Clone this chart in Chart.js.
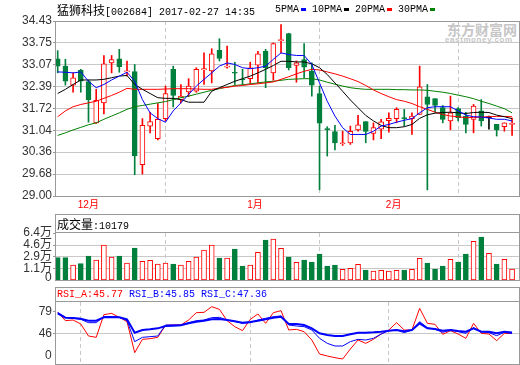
<!DOCTYPE html>
<html>
<head>
<meta charset="utf-8">
<script src="https://cdn.jsdelivr.net/npm/chart.js@4.4.1/dist/chart.umd.min.js"></script>
<style>
  html, body { margin: 0; padding: 0; background: #fff; width: 520px; height: 365px; overflow: hidden; }
  canvas { position: absolute; left: 0; }
  .box { position: absolute; border: 1px solid #999; box-sizing: border-box; pointer-events: none; }
  .sep { position: absolute; left: 55px; width: 465px; height: 1px; background: #999; }
  .txt { position: absolute; white-space: nowrap; font-family: "Liberation Mono", monospace; font-size: 10px; color: #000; }
  .cjk { font-family: "Noto Sans CJK SC"; font-size: 12px; }
  .sw { display: inline-block; width: 5px; height: 3px; margin-left: 2px; vertical-align: 1px; }
  .logo { position: absolute; color: #c6c6c6; font-weight: bold; white-space: nowrap; }
</style>
</head>
<body>
<div class="logo" style="left:447px;top:19px;font:bold 14px 'Noto Sans CJK SC'">东方财富网</div>
<div class="logo" style="left:445px;top:35px;font:bold 8px 'Liberation Sans';letter-spacing:0.6px">eastmoney.com</div>

<canvas id="priceChart" width="520" height="215" style="top:0"></canvas>
<canvas id="volChart" width="520" height="72" style="top:214px"></canvas>
<canvas id="rsiChart" width="520" height="78" style="top:287px"></canvas>

<div class="box" style="left:55px;top:21px;width:465px;height:176px"></div>
<div class="box" style="left:55px;top:214px;width:465px;height:67px"></div>
<div class="sep" style="top:232px"></div>
<div class="box" style="left:55px;top:287px;width:465px;height:78px"></div>
<div class="sep" style="top:301px"></div>

<div class="txt" style="left:57px;top:3px;line-height:14px"><span class="cjk">猛狮科技</span>[002684] 2017-02-27 14:35</div>
<div class="txt" style="left:275px;top:3px;line-height:14px">5PMA<i class="sw" style="background:#0000ff"></i> 10PMA<i class="sw" style="background:#000"></i> 20PMA<i class="sw" style="background:#ff0000"></i> 30PMA<i class="sw" style="background:#008000"></i></div>
<div class="txt" style="left:57px;top:215px;line-height:17px"><span class="cjk">成交量</span>:<span id="volLast"></span></div>
<div class="txt" style="left:57px;top:288px;line-height:13px"><span id="rsiA" style="color:#ff0000"></span> <span id="rsiB" style="color:#0000ff"></span> <span id="rsiC" style="color:#0000ff"></span></div>

<script>
// ========================
// DATA
// ========================
const monthPos = [3, 25, 43];
const monthLabels = ['12月', '1月', '2月'];
const priceTicks = [34.43, 33.75, 33.07, 32.39, 31.72, 31.04, 30.36, 29.68, 29.00];
const volTicks = [64000, 46000, 29000, 11000];
const volBottomTick = [0];
const rsiTicks = [79, 46];
const rsiBottomTick = [0];

const open = [33.26, 33.03, 32.44, 32.90, 32.55, 31.27, 31.89, 33.13, 33.26, 32.85,
  32.86, 29.97, 31.17, 30.78, 31.40, 32.93, 31.98, 32.23, 32.25, 32.91,
  32.88, 33.52, 33.00, 32.84, 32.62, 32.64, 33.06, 33.49, 32.82, 33.82,
  34.04, 33.05, 33.23, 32.87, 32.18, 31.08, 31.00, 30.62, 30.65, 31.05,
  31.31, 30.94, 31.07, 31.34, 31.40, 31.43, 31.40, 31.53, 32.08, 32.02,
  31.74, 31.33, 31.71, 31.48, 31.38, 31.64, 31.43, 31.22, 31.15, 31.22];
const high = [33.51, 33.24, 32.82, 32.93, 32.60, 32.31, 33.36, 33.36, 33.55, 33.19,
  33.08, 31.40, 31.60, 31.87, 32.41, 33.03, 32.46, 32.64, 32.98, 33.44,
  33.57, 33.88, 33.65, 33.15, 32.93, 33.15, 33.49, 33.55, 33.75, 34.32,
  34.05, 33.19, 33.73, 33.13, 32.41, 31.15, 31.19, 31.01, 31.17, 31.50,
  31.31, 31.27, 31.38, 31.58, 31.74, 31.69, 31.58, 33.03, 32.46, 32.02,
  31.81, 32.10, 31.74, 31.60, 31.84, 31.99, 31.48, 31.22, 31.27, 31.42];
const low = [32.82, 32.44, 32.22, 32.22, 31.29, 31.25, 31.55, 32.82, 32.84, 32.72,
  29.66, 29.68, 30.96, 30.74, 31.33, 31.76, 31.89, 32.08, 32.22, 32.46,
  32.51, 33.19, 32.97, 32.46, 32.46, 32.49, 32.51, 32.36, 32.59, 33.44,
  32.91, 32.53, 32.67, 32.10, 29.19, 30.24, 30.43, 30.57, 30.60, 31.01,
  30.65, 30.74, 30.78, 30.98, 31.27, 31.17, 30.91, 31.53, 29.19, 31.60,
  31.27, 31.06, 31.33, 30.96, 30.96, 31.17, 31.07, 30.86, 31.01, 30.88];
const close = [33.03, 32.56, 32.67, 32.56, 31.99, 31.97, 33.10, 33.23, 33.01, 32.88,
  30.24, 31.19, 31.31, 31.38, 32.18, 32.12, 32.10, 32.41, 32.93, 32.95,
  33.41, 33.27, 33.02, 32.81, 32.60, 32.98, 33.41, 32.98, 33.73, 33.84,
  32.98, 33.13, 33.00, 32.44, 31.26, 31.06, 30.65, 30.64, 31.01, 31.21,
  31.00, 31.12, 31.30, 31.41, 31.69, 31.40, 31.48, 32.39, 31.84, 31.81,
  31.38, 31.58, 31.43, 31.22, 31.79, 31.33, 31.43, 31.05, 31.27, 31.26];

const ma5 = [32.85, 32.84, 32.82, 32.85, 32.56, 32.36, 32.46, 32.60, 32.72, 32.84,
  32.56, 31.99, 31.58, 31.40, 31.29, 31.64, 31.89, 32.15, 32.41, 32.62,
  32.82, 33.03, 33.13, 33.08, 32.98, 32.95, 32.98, 33.03, 33.24, 33.44,
  33.39, 33.36, 33.36, 33.08, 32.51, 31.94, 31.48, 31.12, 30.91, 30.91,
  30.91, 31.01, 31.17, 31.22, 31.29, 31.35, 31.40, 31.58, 31.74, 31.77,
  31.77, 31.77, 31.64, 31.51, 31.46, 31.45, 31.42, 31.38, 31.38, 31.33];
const ma10 = [32.18, 32.31, 32.46, 32.60, 32.60, 32.60, 32.62, 32.67, 32.72, 32.74,
  32.46, 32.31, 32.18, 32.05, 32.03, 32.03, 31.99, 31.91, 31.91, 31.91,
  32.25, 32.36, 32.46, 32.56, 32.64, 32.72, 32.82, 32.93, 33.05, 33.18,
  33.18, 33.16, 33.16, 33.10, 32.98, 32.77, 32.51, 32.25, 31.98, 31.74,
  31.50, 31.33, 31.19, 31.12, 31.12, 31.15, 31.22, 31.41, 31.52, 31.57,
  31.59, 31.60, 31.58, 31.56, 31.59, 31.60, 31.59, 31.51, 31.46, 31.40];
const ma20 = [31.46, 31.64, 31.77, 31.84, 31.89, 31.94, 32.03, 32.12, 32.22, 32.34,
  32.31, 32.31, 32.31, 32.31, 32.32, 32.33, 32.33, 32.33, 32.32, 32.31,
  32.31, 32.35, 32.37, 32.41, 32.43, 32.46, 32.48, 32.51, 32.54, 32.62,
  32.70, 32.79, 32.87, 32.93, 32.91, 32.85, 32.79, 32.72, 32.64, 32.55,
  32.43, 32.29, 32.18, 32.08, 31.99, 31.94, 31.87, 31.77, 31.69, 31.60,
  31.53, 31.48, 31.46, 31.43, 31.44, 31.45, 31.46, 31.47, 31.47, 31.46];
const ma30 = [30.88, 30.96, 31.05, 31.13, 31.21, 31.27, 31.38, 31.48, 31.58, 31.69,
  31.77, 31.81, 31.85, 31.89, 31.93, 31.99, 32.05, 32.10, 32.16, 32.22,
  32.28, 32.33, 32.38, 32.43, 32.45, 32.48, 32.51, 32.54, 32.56, 32.59,
  32.62, 32.63, 32.64, 32.64, 32.60, 32.53, 32.47, 32.41, 32.36, 32.33,
  32.31, 32.31, 32.31, 32.31, 32.30, 32.30, 32.29, 32.29, 32.28, 32.25,
  32.22, 32.18, 32.13, 32.08, 32.02, 31.94, 31.87, 31.79, 31.71, 31.58];

const volume = [27200, 27200, 16200, 18200, 29600, 23700, 46100, 28100, 29600, 19200,
  41600, 21700, 23200, 17700, 19200, 17700, 16200, 21700, 28100, 38600,
  46100, 26700, 26700, 40100, 14700, 16200, 35100, 53500, 55000, 41100,
  28100, 20200, 23700, 20700, 32600, 14700, 16200, 9700, 11200, 17200,
  8700, 7200, 8200, 7200, 8200, 8700, 9700, 26200, 19200, 10200,
  14700, 24700, 20700, 32600, 51600, 58000, 33600, 17700, 24700, 10179];

const rsiA = [77.5, 65, 66, 60, 42, 40, 74, 76, 70, 63.5,
  17, 37, 38, 40, 58, 58.5, 58.5, 66, 77, 77.5,
  86, 82, 65, 56, 50, 67, 75, 61, 77, 80,
  51, 52, 48.5, 36, 15, 12, 9.5, 7.5, 22.5, 36,
  31, 37, 45, 51, 62, 51, 51, 83.5, 61, 59.5,
  44.5, 50, 45, 38.5, 61, 46, 45, 35, 46, 45.77];
const rsiB = [77.5, 70, 68.5, 67, 62, 62, 71, 71, 70, 65,
  33.5, 40, 41, 42, 58.5, 58.5, 58.5, 62, 65, 66,
  69.5, 70, 66, 63.5, 61, 62, 66, 68.5, 71, 72,
  58.5, 57, 56, 51, 38.5, 31, 27, 27, 33.5, 37,
  36, 38.5, 45, 50, 51, 47, 51, 63.5, 54.5, 52,
  47.5, 51, 48.5, 46, 54.5, 48.5, 47, 42.5, 47.5, 45.85];
const rsiC = [76, 69.5, 69, 68, 65, 65, 70, 70.5, 70, 67,
  47, 51, 52, 53.5, 57, 57.5, 58, 61, 63.5, 65,
  67, 67.5, 66, 64, 62, 63, 65, 67, 69.5, 71,
  60, 60, 58.5, 53.5, 46, 43.5, 42, 42, 44.5, 47,
  47, 47.5, 48.5, 50, 51, 49, 51, 61, 53.5, 52.5,
  50, 51, 49.5, 48.5, 53.5, 48.5, 48.5, 46, 48.5, 47.36];

// ========================
// CONFIG
// ========================
const RED = '#ff0000';
const GREEN = '#00803c';
const GRID = '#c8c8c8';
const X_MIN = -0.22, X_MAX = 59.9;
const VOL_MIN = -6200;
const RSI_MAX = 93;
const TICK_FONT = { family: "'Liberation Sans', 'Noto Sans CJK SC'", size: 12 };

Chart.defaults.animation = false;
Chart.defaults.font.family = TICK_FONT.family;

const candleColor = open.map((o, i) => close[i] > o ? RED : (close[i] < o ? GREEN : '#000'));
const bodyFill = open.map((o, i) => close[i] > o ? '#fff' : candleColor[i]);
const volColor = open.map((o, i) => close[i] >= o ? RED : GREEN);
const volFill = open.map((o, i) => close[i] >= o ? '#fff' : GREEN);

function xScale(showLabels) {
  return {
    type: 'linear', min: X_MIN, max: X_MAX, offset: false,
    afterBuildTicks: s => { s.ticks = monthPos.map(v => ({ value: v })); },
    afterFit: s => { s.height = showLabels ? 19 : 0; s.paddingLeft = 0; s.paddingRight = 0; },
    grid: { color: GRID, drawTicks: false },
    border: { display: false, dash: [4, 3] },
    ticks: {
      display: showLabels, autoSkip: false, maxRotation: 0, align: 'start', labelOffset: -3, padding: 3,
      color: RED, font: { family: TICK_FONT.family, size: 10 },
      callback: (v, i) => monthLabels[i]
    }
  };
}

function yFit(width) {
  return s => { s.width = width; s.paddingTop = 0; s.paddingBottom = 0; };
}

// a zero-width axis that only prints the bottom "0", nudged like the reference does
function bottomLabelAxis(min, max, ticks, offset) {
  return {
    position: 'left', min, max, weight: 0,
    afterBuildTicks: s => { s.ticks = ticks.map(v => ({ value: v })); },
    afterFit: yFit(0),
    grid: { display: false, drawTicks: false },
    border: { display: false },
    ticks: { color: '#333', font: TICK_FONT, mirror: true, padding: -11, labelOffset: offset }
  };
}

function lineSet(values, color, width) {
  return {
    type: 'line', data: values.map((v, i) => ({ x: i, y: v })),
    borderColor: color, borderWidth: width || 1, pointRadius: 0, tension: 0, fill: false, order: 0
  };
}

const baseOptions = {
  responsive: false, devicePixelRatio: 1, events: [],
  plugins: { legend: { display: false }, tooltip: { enabled: false } }
};

// ========================
// PRICE CHART
// ========================
new Chart(document.getElementById('priceChart'), {
  type: 'bar',
  data: {
    datasets: [
      lineSet(ma5, '#0000ff'),
      lineSet(ma10, '#000000'),
      lineSet(ma20, RED),
      lineSet(ma30, '#008000'),
      {
        data: open.map((o, i) => ({ x: i, y: [o, close[i]] })),
        backgroundColor: bodyFill, borderColor: candleColor, borderWidth: 1, borderSkipped: false,
        barThickness: 5, minBarLength: 1, grouped: false, order: 1
      },
      {
        data: low.map((l, i) => ({ x: i, y: [l, high[i]] })),
        backgroundColor: candleColor, borderWidth: 0, barThickness: 1, grouped: false, order: 2
      }
    ]
  },
  options: {
    ...baseOptions,
    layout: { padding: { left: 0, right: 1, top: 21, bottom: 0 } },
    scales: {
      x: xScale(true),
      y: {
        min: priceTicks[priceTicks.length - 1], max: priceTicks[0],
        afterBuildTicks: s => { s.ticks = priceTicks.map(v => ({ value: v })); },
        afterFit: yFit(56),
        grid: { color: GRID, tickColor: '#999', tickLength: 3 },
        border: { display: false },
        ticks: { color: '#333', font: TICK_FONT, padding: 1, autoSkip: false, callback: v => v.toFixed(2) }
      }
    }
  }
});

// ========================
// VOLUME CHART
// ========================
document.getElementById('volLast').textContent = volume[volume.length - 1];

new Chart(document.getElementById('volChart'), {
  type: 'bar',
  data: {
    datasets: [{
      data: volume.map((v, i) => ({ x: i, y: v })),
      backgroundColor: volFill, borderColor: volColor, borderWidth: 1, borderSkipped: false,
      barThickness: 5, grouped: false, base: VOL_MIN
    }]
  },
  options: {
    ...baseOptions,
    layout: { padding: { left: 0, right: 1, top: 19, bottom: 6 } },
    scales: {
      x: xScale(false),
      y: {
        min: VOL_MIN, max: volTicks[0], weight: 1,
        afterBuildTicks: s => { s.ticks = volTicks.map(v => ({ value: v })); },
        afterFit: yFit(56),
        grid: {
          color: c => (c.tick && c.tick.value < volTicks[0]) ? GRID : 'rgba(0,0,0,0)',
          tickColor: '#999', tickLength: 3
        },
        border: { display: false },
        ticks: {
          color: '#333', font: TICK_FONT, padding: 1, autoSkip: false,
          callback: v => (v / 10000).toFixed(1) + '万'
        }
      },
      yz: bottomLabelAxis(VOL_MIN, volTicks[0], volBottomTick, 2)
    }
  }
});

// ========================
// RSI CHART
// ========================
document.getElementById('rsiA').textContent = 'RSI_A:' + rsiA[rsiA.length - 1].toFixed(2);
document.getElementById('rsiB').textContent = 'RSI_B:' + rsiB[rsiB.length - 1].toFixed(2);
document.getElementById('rsiC').textContent = 'RSI_C:' + rsiC[rsiC.length - 1].toFixed(2);

new Chart(document.getElementById('rsiChart'), {
  type: 'line',
  data: {
    datasets: [
      lineSet(rsiC, '#0000ff', 2),
      lineSet(rsiB, '#0000ff', 1),
      lineSet(rsiA, RED, 1)
    ]
  },
  options: {
    ...baseOptions,
    layout: { padding: { left: 0, right: 1, top: 15, bottom: 1 } },
    scales: {
      x: xScale(false),
      y: {
        min: 0, max: RSI_MAX, weight: 1,
        afterBuildTicks: s => { s.ticks = rsiTicks.map(v => ({ value: v })); },
        afterFit: yFit(56),
        grid: {
          color: c => (c.tick && c.tick.value === 46) ? GRID : 'rgba(0,0,0,0)',
          tickColor: '#999', tickLength: 3
        },
        border: { display: false },
        ticks: { color: '#333', font: TICK_FONT, padding: 1, autoSkip: false }
      },
      yz: bottomLabelAxis(0, RSI_MAX, rsiBottomTick, -8)
    }
  }
});
</script>
</body>
</html>
